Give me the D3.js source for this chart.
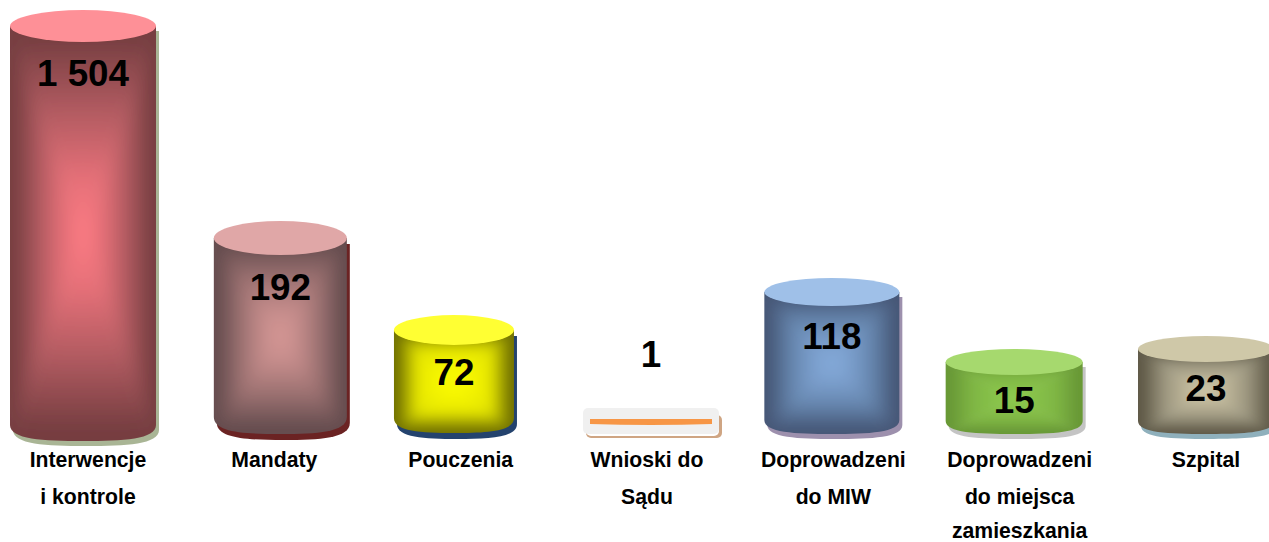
<!DOCTYPE html>
<html>
<head>
<meta charset="utf-8">
<script src="https://cdn.jsdelivr.net/npm/d3@7"></script>
<style>
    html, body { margin: 0; padding: 0; background: #fff; overflow: hidden; }
    text { font-family: "Liberation Sans", Arial, sans-serif; font-weight: bold; fill: #000; text-anchor: middle; }
</style>
</head>
<body>
<script>
//chart values
var categories = ["Interwencje", "Mandaty", "Pouczenia", "Wnioski do", "Doprowadzeni", "Doprowadzeni", "Szpital"];
var labelLine2 = ["i kontrole", "", "", "Sądu", "do MIW", "do miejsca", ""];
var labelLine3 = ["", "", "", "", "", "zamieszkania", ""];
var values = [1504, 192, 72, 1, 118, 15, 23];
var valueLabels = ["1 504", "192", "72", "1", "118", "15", "23"];

//the drawn cylinders are not to scale in the original, heights follow this piecewise scale
var heightScale = d3.scaleLinear()
    .domain([1, 15, 23, 72, 118, 192, 1504])
    .range([6, 59, 72, 88, 128, 179, 399]);

//labels sit evenly spaced
var width = 1269,
    height = 542;

var x = d3.scalePoint()
    .domain(d3.range(categories.length))
    .range([88, 1206]);

//baselines of the three label lines
var lineY = [467, 503.5, 537.5];

//hand placed look of each cylinder: offset from label, half width, ellipse radius, bottom edge, value label offset, shadow drop
var shapes = [
    {dx: -5, hw: 73, ry: 16, bottom: 441, labelDy: 60, focus: 0.5, drop: 5},
    {dx: 6, hw: 66.5, ry: 17, bottom: 434, labelDy: 62, focus: 0.5, drop: 6},
    {dx: -6.7, hw: 60, ry: 15, bottom: 433, labelDy: 55, focus: 0.5, drop: 6},
    {dx: 4, hw: 68, ry: 0, bottom: 425, labelDy: -52, focus: 0.5, drop: 5},
    {dx: -1.5, hw: 67.5, ry: 14, bottom: 434, labelDy: 57, focus: 0.5, drop: 5},
    {dx: -5.5, hw: 68.5, ry: 13, bottom: 434, labelDy: 51, focus: 0.5, drop: 5},
    {dx: 0, hw: 68, ry: 13, bottom: 434, labelDy: 52, focus: 0.5, drop: 5}
];

//colours: lid, gradient centre, gradient middle, edge, shadow
var colors = [
    {lid: "#fe9097", centre: "#ff7b84", mid: "#b05a60", edge: "#763e41", shadow: "#a9b595"},
    {lid: "#e0a7a7", centre: "#d99a98", mid: "#9a7070", edge: "#644c4e", shadow: "#6b2323"},
    {lid: "#ffff33", centre: "#ffff00", mid: "#e6e600", edge: "#707000", shadow: "#24436e"},
    {lid: "#f0f0f0", centre: "#f79646", mid: "#f79646", edge: "#f79646", shadow: "#cfa583"},
    {lid: "#9fc0e8", centre: "#85acdc", mid: "#6585ad", edge: "#445574", shadow: "#9d90ad"},
    {lid: "#a6d96e", centre: "#8cc84b", mid: "#7fb644", edge: "#689836", shadow: "#c4c4c4"},
    {lid: "#cfc8a8", centre: "#cfc6a6", mid: "#9d9780", edge: "#5f5947", shadow: "#8fb0bc"}
];

var svg = d3.select("body")
    .append("svg")
    .attr("width", width)
    .attr("height", height)
    .style("display", "block");

var defs = svg.append("defs");

//outline of a cylinder body: sides and rounded bottom
function bodyPath(cx, hw, ry, top, bottom){
    var p = d3.path();
    p.moveTo(cx - hw, top);
    p.lineTo(cx - hw, bottom - ry);
    p.bezierCurveTo(cx - hw, bottom - ry * 0.1, cx - hw * 0.55, bottom, cx, bottom);
    p.bezierCurveTo(cx + hw * 0.55, bottom, cx + hw, bottom - ry * 0.1, cx + hw, bottom - ry);
    p.lineTo(cx + hw, top);
    p.closePath();
    return p.toString();
}

//add a gradient running along one axis, brightest at offset focus
function addGradient(id, c, focus, x1, y1, x2, y2){
    var soft = d3.interpolateRgb(c.centre, c.mid)(0.35);
    var stops = [
        [0.03, c.edge], [focus * 0.4, c.mid], [focus * 0.72, soft], [focus, c.centre],
        [focus + (1 - focus) * 0.28, soft], [focus + (1 - focus) * 0.6, c.mid], [0.97, c.edge]
    ];
    defs.append("linearGradient")
        .attr("id", id)
        .attr("gradientUnits", "userSpaceOnUse")
        .attr("x1", x1).attr("y1", y1)
        .attr("x2", x2).attr("y2", y2)
        .selectAll("stop")
        .data(stops)
        .enter()
        .append("stop")
        .attr("offset", function(d){ return d[0]; })
        .attr("stop-color", function(d){ return d[1]; });
}

//cylinders
values.forEach(function(v, i){
    var s = shapes[i],
        c = colors[i],
        cx = x(i) + s.dx,
        h = heightScale(v),
        topY = s.bottom - s.ry - h,
        g = svg.append("g").attr("class", "bar");

    //the single "1" is a flat slip with a thin strip on it, not a cylinder
    if (v === 1){
        g.append("rect")
            .attr("x", cx - s.hw + 3).attr("y", s.bottom - 10)
            .attr("width", s.hw * 2).attr("height", 23)
            .attr("rx", 5)
            .attr("fill", c.shadow);
        g.append("rect")
            .attr("x", cx - s.hw + 3).attr("y", s.bottom - 10)
            .attr("width", s.hw * 2 - 3).attr("height", 21)
            .attr("rx", 5)
            .attr("fill", "#fff");
        g.append("rect")
            .attr("x", cx - s.hw).attr("y", s.bottom - 17)
            .attr("width", s.hw * 2).attr("height", 26)
            .attr("rx", 5)
            .attr("fill", c.lid);
        g.append("path")
            .attr("d", "M" + (cx - s.hw + 7) + "," + topY
                + "H" + (cx + s.hw - 7)
                + "V" + (s.bottom - 1)
                + "Q" + cx + "," + (s.bottom + 1) + " " + (cx - s.hw + 7) + "," + (s.bottom - 1)
                + "Z")
            .attr("fill", c.centre);
        return;
    }

    var bodyD = bodyPath(cx, s.hw, s.ry, topY, s.bottom);

    //drop shadow, same shape shifted right and down
    g.append("path")
        .attr("d", bodyD)
        .attr("transform", "translate(3," + s.drop + ")")
        .attr("fill", c.shadow);

    //rectangular path gradient built from four triangles meeting at the centre
    var clipId = "clip" + i,
        gradH = "gradH" + i,
        gradV = "gradV" + i,
        softId = "soft" + i,
        fy = topY + (s.bottom - topY) * s.focus,
        l = cx - s.hw,
        r = cx + s.hw,
        t = topY,
        b = s.bottom;

    defs.append("clipPath").attr("id", clipId).append("path").attr("d", bodyD);
    addGradient(gradH, c, 0.5, l, 0, r, 0);
    addGradient(gradV, c, s.focus, 0, t, 0, b);

    //blur hides the joins, bigger cylinders take more of it
    defs.append("filter")
        .attr("id", softId)
        .attr("x", "-20%").attr("y", "-20%").attr("width", "140%").attr("height", "140%")
        .append("feGaussianBlur")
        .attr("stdDeviation", Math.max(3, Math.min(s.hw, (b - t) / 2) * 0.11));

    //corners pushed out along the diagonals so the blur has spare colour at the edges
    function out(px, py){
        return [cx + (px - cx) * 1.5, fy + (py - fy) * 1.5];
    }

    var pieces = [
        {pts: [[cx, fy], out(l, t), out(l, b)], fill: gradH},
        {pts: [[cx, fy], out(r, t), out(r, b)], fill: gradH},
        {pts: [[cx, fy], out(l, t), out(r, t)], fill: gradV},
        {pts: [[cx, fy], out(l, b), out(r, b)], fill: gradV}
    ];

    var inner = g.append("g")
        .attr("clip-path", "url(#" + clipId + ")")
        .append("g")
        .attr("filter", "url(#" + softId + ")");

    inner.selectAll("polygon")
        .data(pieces)
        .enter()
        .append("polygon")
        .attr("points", function(d){ return d.pts.join(" "); })
        .attr("fill", function(d){ return "url(#" + d.fill + ")"; });

    //lid
    g.append("ellipse")
        .attr("cx", cx)
        .attr("cy", topY)
        .attr("rx", s.hw)
        .attr("ry", s.ry)
        .attr("fill", c.lid);
});

//value labels
svg.selectAll(".value")
    .data(values)
    .enter()
    .append("text")
    .attr("class", "value")
    .attr("x", function(d, i){ return x(i) + shapes[i].dx; })
    .attr("y", function(d, i){ return shapes[i].bottom - shapes[i].ry - heightScale(d) + shapes[i].labelDy; })
    .attr("font-size", 36.8)
    .text(function(d, i){ return valueLabels[i]; });

//category labels, up to three lines
[categories, labelLine2, labelLine3].forEach(function(lines, n){
    svg.selectAll(".line" + n)
        .data(lines)
        .enter()
        .append("text")
        .attr("class", "line" + n)
        .attr("x", function(d, i){ return x(i); })
        .attr("y", lineY[n])
        .attr("font-size", 21.2)
        .text(function(d){ return d; });
});
</script>
</body>
</html>
